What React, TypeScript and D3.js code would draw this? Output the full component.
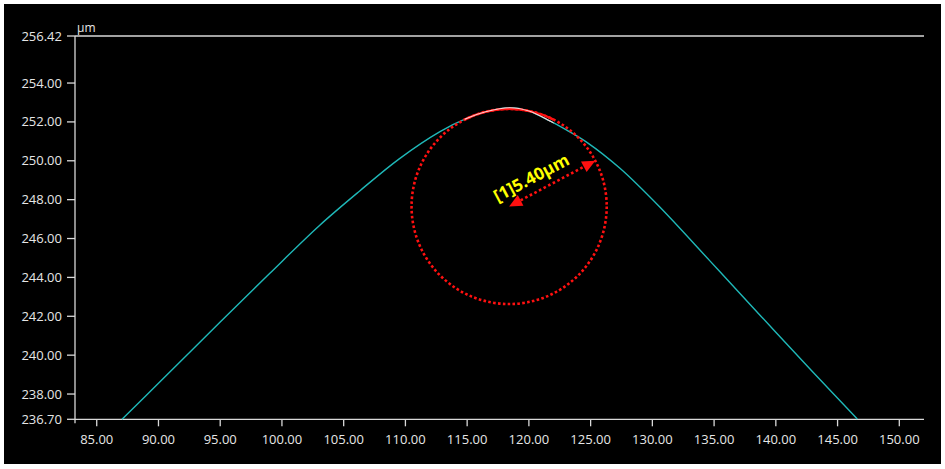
import * as d3 from 'd3';

// profile curve (x in mm-ish units, y in µm)
const profileX = [87.05, 90, 95, 99, 103, 106.3, 109.5, 112.8, 115, 116.5, 118.45, 120, 121.7, 123, 124.7, 127.4, 130.6, 134.66, 138.7, 142.75, 146.6];
const profileY = [236.7, 238.55, 241.7, 244.2, 246.65, 248.45, 250.1, 251.5, 252.19, 252.52, 252.73, 252.56, 252.05, 251.6, 250.95, 249.6, 247.62, 244.85, 242.07, 239.3, 236.72];

const xTicks = [85, 90, 95, 100, 105, 110, 115, 120, 125, 130, 135, 140, 145, 150];
const yTicks = [256.42, 254, 252, 250, 248, 246, 244, 242, 240, 238, 236.7];

const xDomain = [83.24, 152.0];
const yDomain = [236.7, 256.42];

// fitted circle: centre, radius (y units), label
const circleCenter = [118.4, 247.65];
const circleRadius = 5.02;
const fitRange = [114.8, 122.0];
const radiusLabel = '[1]5.40µm';
const arrowAngle = -28;

const W = 945;
const H = 469;

export default function App() {
  const x = d3.scaleLinear().domain(xDomain).range([75, 924]);
  const y = d3.scaleLinear().domain(yDomain).range([419.3, 36]);

  const pts = profileX.map((v, i) => [v, profileY[i]] as [number, number]);
  const line = d3.line<[number, number]>()
    .x(d => x(d[0]))
    .y(d => y(d[1]))
    .curve(d3.curveCatmullRom.alpha(0.5));

  const cx = x(circleCenter[0]);
  const cy = y(circleCenter[1]);
  const r = y(yDomain[0]) - y(yDomain[0] + circleRadius);

  // red fitted arc on top
  const a0 = Math.asin((x(fitRange[0]) - cx) / r);
  const a1 = Math.asin((x(fitRange[1]) - cx) / r);
  const arc = d3.arc()({ innerRadius: r, outerRadius: r, startAngle: a0, endAngle: a1 } as any) as string;

  const rad = (arrowAngle * Math.PI) / 180;
  const ux = Math.cos(rad), uy = Math.sin(rad);
  const ex = cx + ux * r, ey = cy + uy * r;
  const head = 13, hw = 6;
  const tri = (tx: number, ty: number, dx: number, dy: number) => {
    // tip at (tx,ty), pointing along (dx,dy)
    const bx = tx - dx * head, by = ty - dy * head;
    return `M${tx},${ty}L${bx - dy * hw},${by + dx * hw}L${bx + dy * hw},${by - dx * hw}Z`;
  };
  const lx = cx + ux * 33 + uy * 9;
  const ly = cy + uy * 33 - ux * 9;

  const font = '"Open Sans", "Noto Sans", sans-serif';
  const axisColor = '#d9d9d9';

  return (
    <svg width={W} height={H} style={{ position: 'absolute', left: 0, top: 0, background: '#fff' }}>
      <defs>
        <clipPath id="fit">
          <rect x={x(fitRange[0])} y={0} width={x(fitRange[1]) - x(fitRange[0])} height={H} />
        </clipPath>
      </defs>
      <rect x={4} y={4} width={937} height={460} fill="#000" />

      {/* axes */}
      <line x1={75} x2={924} y1={y(yDomain[1])} y2={y(yDomain[1])} stroke={axisColor} strokeWidth={1.3} />
      <line x1={75} x2={924} y1={y(yDomain[0])} y2={y(yDomain[0])} stroke={axisColor} strokeWidth={1.3} />
      <line x1={75} x2={75} y1={y(yDomain[1])} y2={y(yDomain[0]) + 4} stroke={axisColor} strokeWidth={1.3} />
      {yTicks.map(t => (
        <g key={t} transform={`translate(0,${y(t)})`}>
          <line x1={67} x2={75} stroke={axisColor} strokeWidth={1.3} />
          <text x={62} dy="0.35em" textAnchor="end" fill="#e6e6e6" fontFamily={font} fontSize={13}>{t.toFixed(2)}</text>
        </g>
      ))}
      {xTicks.map(t => (
        <g key={t} transform={`translate(${x(t)},${y(yDomain[0])})`}>
          <line y1={0} y2={7} stroke={axisColor} strokeWidth={1.3} />
          <text y={25} textAnchor="middle" fill="#e6e6e6" fontFamily={font} fontSize={13}>{t.toFixed(2)}</text>
        </g>
      ))}
      <text x={77} y={32} fill="#e6e6e6" fontFamily={font} fontSize={12}>µm</text>

      {/* profile */}
      <path d={line(pts) ?? ''} fill="none" stroke="#1fb8b8" strokeWidth={1.4} />

      {/* fitted circle */}
      <circle cx={cx} cy={cy} r={r} fill="none" stroke="#ff1010" strokeWidth={2.6} strokeDasharray="2.6 2.3" />
      <path d={arc} transform={`translate(${cx},${cy})`} fill="none" stroke="#ff1010" strokeWidth={2.4} />
      <path d={line(pts) ?? ''} fill="none" stroke="#ffd0d0" strokeWidth={1.1} clipPath="url(#fit)" />

      {/* radius arrow */}
      <line
        x1={cx + ux * head} y1={cy + uy * head} x2={ex - ux * head} y2={ey - uy * head}
        stroke="#ff1010" strokeWidth={2.6} strokeDasharray="2.6 2.6"
      />
      <path d={tri(cx, cy, -ux, -uy)} fill="#ff1010" />
      <path d={tri(ex, ey, ux, uy)} fill="#ff1010" />
      <text
        x={lx} y={ly} transform={`rotate(${arrowAngle},${lx},${ly})`}
        textAnchor="middle" fill="#ffff00" fontFamily={font} fontWeight="bold" fontSize={17}
      >{radiusLabel}</text>
    </svg>
  );
}
